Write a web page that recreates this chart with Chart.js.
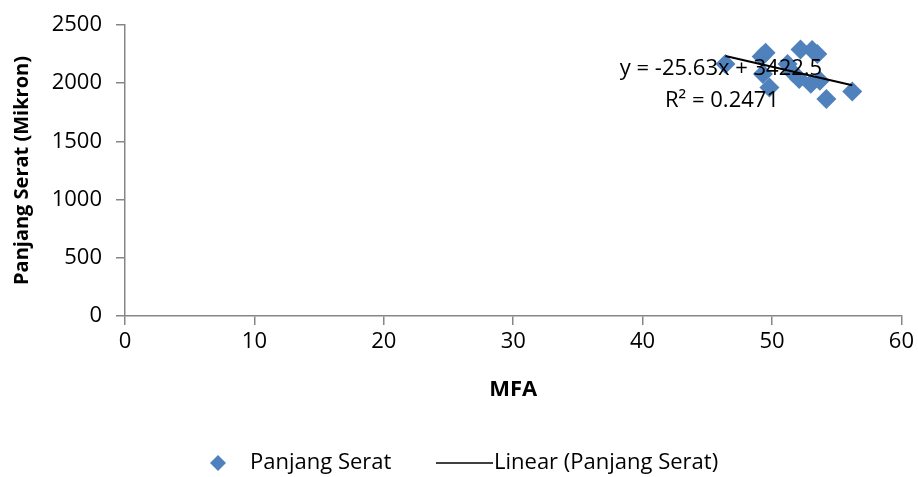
<!DOCTYPE html>
<html>
<head>
<meta charset="utf-8">
<script src="https://cdn.jsdelivr.net/npm/chart.js@4/dist/chart.umd.min.js"></script>
<style>
  html, body { margin: 0; padding: 0; background: #fff; }
  #wrap { width: 918px; height: 477px; }
</style>
</head>
<body>
<div id="wrap"><canvas id="scatterMFA" width="918" height="477"></canvas></div>
<script>
// nilai
var mfa = [46.4, 49.2, 49.5, 49.3, 49.8, 51.2, 51.6, 52.2, 53.1, 53.5, 52.1, 53.0, 53.7, 54.2, 56.2];
var panjang = [2165, 2230, 2262, 2080, 1963, 2165, 2092, 2290, 2285, 2250, 2037, 1995, 2020, 1864, 1929];
var slope = -25.63;
var intercept = 3422.5;
var trendX = [46.4, 56.2];
var yTicks = [0, 500, 1000, 1500, 2000, 2500];
var xTicks = [0, 10, 20, 30, 40, 50, 60];

var fontName = '"Open Sans", sans-serif';
var txtSize = 22;
var blue = '#4F81BD';
var axisGray = '#868686';

var scatterData = [];
for (var i = 0; i < mfa.length; i++) {
    scatterData.push({x: mfa[i], y: panjang[i]});
}
var trendData = trendX.map(function (x) {
    return {x: x, y: slope * x + intercept};
});

var extraDraw = {
    id: 'extraDraw',
    afterDatasetsDraw: function (chart) {
        var ctx = chart.ctx;
        ctx.save();
        ctx.fillStyle = '#000';
        ctx.font = txtSize + 'px ' + fontName;
        ctx.textBaseline = 'middle';
        ctx.textAlign = 'center';
        ctx.fillText('y = -25.63x + 3422.5', 721, 69);
        ctx.fillText('R² = 0.2471', 722, 101);
        ctx.restore();
    },
    afterDraw: function (chart) {
        var ctx = chart.ctx;
        var ly = 463;
        ctx.save();
        // diamond
        ctx.fillStyle = blue;
        ctx.beginPath();
        ctx.moveTo(218, ly - 8);
        ctx.lineTo(226, ly);
        ctx.lineTo(218, ly + 8);
        ctx.lineTo(210, ly);
        ctx.closePath();
        ctx.fill();
        ctx.fillStyle = '#000';
        ctx.font = txtSize + 'px ' + fontName;
        ctx.textBaseline = 'middle';
        ctx.textAlign = 'left';
        ctx.fillText('Panjang Serat', 250, ly);
        ctx.strokeStyle = '#000';
        ctx.lineWidth = 1.5;
        ctx.beginPath();
        ctx.moveTo(436, ly);
        ctx.lineTo(493, ly);
        ctx.stroke();
        ctx.fillText('Linear (Panjang Serat)', 494, ly);
        ctx.restore();
    }
};

var ctx = document.getElementById('scatterMFA').getContext('2d');
new Chart(ctx, {
    type: 'scatter',
    data: {
        datasets: [
            {
                label: 'Linear (Panjang Serat)',
                type: 'line',
                data: trendData,
                borderColor: '#000',
                borderWidth: 2,
                pointRadius: 0,
                fill: false,
                order: 0
            },
            {
                label: 'Panjang Serat',
                data: scatterData,
                pointStyle: 'rectRot',
                pointRadius: 10,
                pointHoverRadius: 10,
                backgroundColor: blue,
                borderColor: blue,
                borderWidth: 0,
                order: 1
            }
        ]
    },
    options: {
        responsive: false,
        animation: false,
        layout: {padding: {left: 0, right: 16, top: 24, bottom: 0}},
        plugins: {
            legend: {display: false},
            tooltip: {enabled: false}
        },
        scales: {
            x: {
                type: 'linear',
                min: 0,
                max: 60,
                afterBuildTicks: function (s) { s.ticks = xTicks.map(function (v) { return {value: v}; }); },
                afterFit: function (s) { s.height = 161; },
                grid: {drawOnChartArea: false, tickLength: 9, color: axisGray, lineWidth: 1.5},
                border: {color: axisGray, width: 1.5},
                ticks: {color: '#000', font: {family: fontName, size: txtSize}, padding: 4, maxRotation: 0,
                        callback: function (v) { return String(v); }},
                title: {display: true, text: 'MFA', color: '#000',
                        font: {family: fontName, size: 22, weight: 'bold'}, padding: {top: 0, bottom: 74}}
            },
            y: {
                type: 'linear',
                min: 0,
                max: 2500,
                afterBuildTicks: function (s) { s.ticks = yTicks.map(function (v) { return {value: v}; }); },
                afterFit: function (s) { s.width = 125; },
                grid: {drawOnChartArea: false, tickLength: 9, color: axisGray, lineWidth: 1.5},
                border: {color: axisGray, width: 1.5},
                ticks: {color: '#000', font: {family: fontName, size: txtSize, lineHeight: 1}, padding: 14,
                        callback: function (v) { return String(v); }},
                title: {display: true, text: 'Panjang Serat (Mikron)', color: '#000',
                        font: {family: fontName, size: 20, weight: 'bold'}, padding: {top: 10, bottom: 0}}
            }
        }
    },
    plugins: [extraDraw]
});
</script>
</body>
</html>
